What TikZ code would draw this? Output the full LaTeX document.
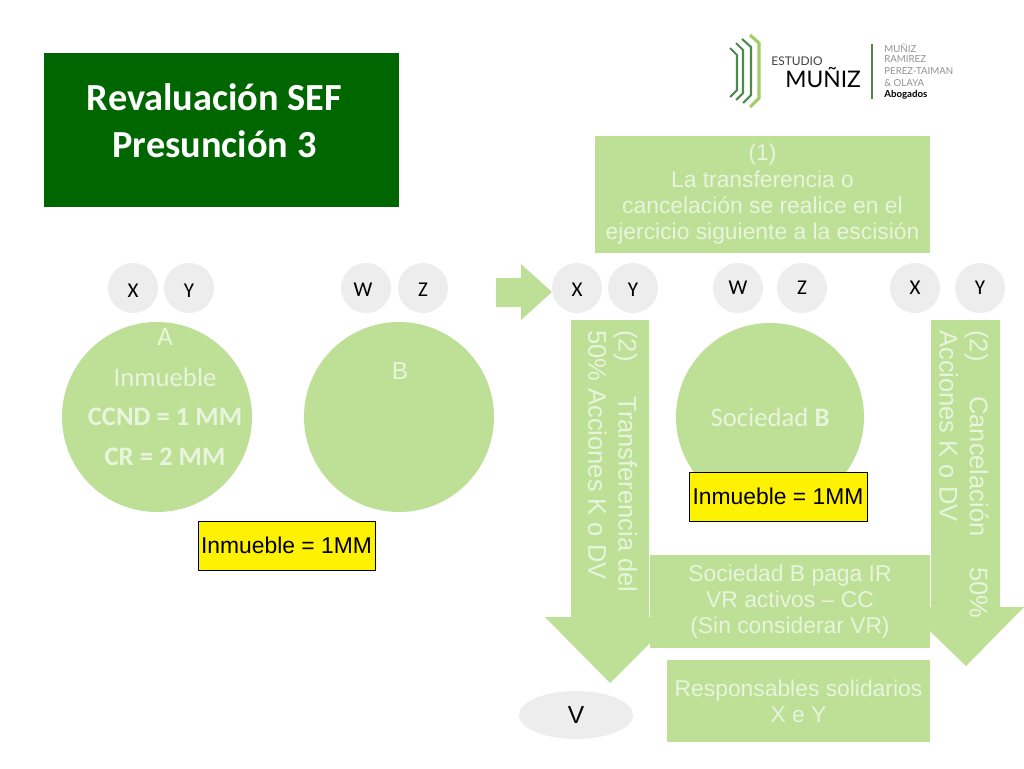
\documentclass[tikz,border=0pt]{standalone}
\usepackage{fontspec}
\setmainfont{Liberation Sans}
\newfontfamily\calibri{Carlito}
\newfontfamily\logofont{Lato}
\usetikzlibrary{calc,shapes.geometric}
\definecolor{leaf}{HTML}{BDE096}
\definecolor{forest}{HTML}{006600}
\definecolor{pale}{HTML}{EDEDED}
\definecolor{palefont}{HTML}{E8F4DC}
\definecolor{logogreen}{HTML}{4E8A4E}
\definecolor{logolime}{HTML}{A5CC6B}
\newcommand{\pxu}{*0.02cm}
\tikzset{
	smallcirc/.style={circle,fill=pale,minimum size=50\pxu,inner sep=0pt,font=\calibri\fontsize{12}{14}\selectfont},
	bigcirc/.style={circle,fill=leaf,minimum size=190\pxu,inner sep=0pt},
	greenbox/.style={fill=leaf,inner sep=0pt,text=palefont,align=center,font=\fontsize{13}{15}\selectfont},
	yellowbox/.style={draw=black,fill=yellow,line width=0.4pt,inner sep=0pt,font=\fontsize{13}{15}\selectfont},
	circtext/.style={text=palefont,font=\calibri\fontsize{15.2}{17}\selectfont},
	arrowtext/.style={rotate=-90,text=palefont,align=left,inner sep=0pt,font=\fontsize{14.5}{17.2}\selectfont},
	logotext/.style={anchor=west,inner sep=0pt,text=gray!85,font=\logofont\fontsize{5.5}{6}\selectfont}
}
\begin{document}
\begin{tikzpicture}[x=0.02cm,y=-0.02cm]
	\useasboundingbox (0,0) rectangle (1024,768);
	\fill[white] (0,0) rectangle (1024,768);

	%title
	\fill[forest] (44,53) rectangle (399,207);
	\node[text=white,align=center,font=\calibri\bfseries\fontsize{21.8}{26.6}\selectfont] (title) at (214.5,121) {Revaluación SEF\\Presunción 3};

	%logo
	\draw[logogreen,line width=1.2pt] (730,48) -- (737,55) -- (737,90) -- (730,97);
	\draw[logogreen,line width=1.2pt] (736,43) -- (743,50) -- (743,93) -- (736,100);
	\draw[logogreen,line width=1.2pt] (742,39) -- (751,47) -- (751,95) -- (743,103);
	\draw[logolime,line width=1.8pt] (750,35) -- (759,43) -- (759,98) -- (750,107);
	\node[anchor=west,inner sep=0pt,text=black!75,font=\logofont\fontsize{6.8}{8}\selectfont] (estudio) at (771,61) {ESTUDIO};
	\node[anchor=west,inner sep=0pt,font=\logofont\fontsize{13}{14}\selectfont] (muniz) at (785,78) {MUÑIZ};
	\draw[logogreen,line width=0.7pt] (872,44) -- (872,99);
	\node[logotext] (firm1) at (884,48) {MUÑIZ};
	\node[logotext] (firm2) at (884,59) {RAMIREZ};
	\node[logotext] (firm3) at (884,71) {PEREZ-TAIMAN};
	\node[logotext] (firm4) at (884,83) {\& OLAYA};
	\node[logotext,text=black,font=\logofont\bfseries\fontsize{5.5}{6}\selectfont] (firm5) at (884,95) {Abogados};

	%left side
	\node[smallcirc] (x1) at (133,288) {}; \node (x1t) at (133,291) {\calibri\fontsize{12}{14}\selectfont X};
	\node[smallcirc] (y1) at (189,288) {}; \node (y1t) at (189,291) {\calibri\fontsize{12}{14}\selectfont Y};
	\node[smallcirc] (w1) at (366,288) {}; \node (w1t) at (363,290) {\calibri\fontsize{12}{14}\selectfont W};
	\node[smallcirc] (z1) at (423,288) {}; \node (z1t) at (423,290) {\calibri\fontsize{12}{14}\selectfont Z};
	\node[bigcirc] (a) at (157,417) {};
	\node[bigcirc] (b) at (399,417) {};
	\node[circtext] (at) at (165,337) {A};
	\node[circtext] (inm) at (165,377) {Inmueble};
	\node[circtext,font=\calibri\bfseries\fontsize{15.2}{17}\selectfont] (ccnd) at (165,417) {CCND = 1 MM};
	\node[circtext,font=\calibri\bfseries\fontsize{15.2}{17}\selectfont] (cr) at (165,457) {CR = 2 MM};
	\node[circtext,font=\fontsize{14}{15}\selectfont] (bt) at (400,371) {B};
	\node[yellowbox,minimum width=177\pxu,minimum height=49\pxu] (inm1) at (286.5,545.5) {Inmueble = 1MM};

	%middle arrow
	\fill[leaf] (496,278) -- (521,278) -- (521,264) -- (552,292) -- (521,320) -- (521,307) -- (496,307) -- cycle;

	%right side
	\node[smallcirc] (x2) at (577,288) {}; \node (x2t) at (577,290) {\calibri\fontsize{12}{14}\selectfont X};
	\node[smallcirc] (y2) at (633,288) {}; \node (y2t) at (633,290) {\calibri\fontsize{12}{14}\selectfont Y};
	\node[smallcirc] (w2) at (738,288) {W};
	\node[smallcirc] (z2) at (802,288) {Z};
	\node[smallcirc] (x3) at (915,288) {X};
	\node[smallcirc] (y3) at (980,288) {Y};

	%arrows
	\fill[leaf] (571,320) -- (649,320) -- (649,617) -- (676,617) -- (610,683) -- (545,617) -- (571,617) -- cycle;
	\fill[leaf] (931,320) -- (1000,320) -- (1000,607) -- (1024,607) -- (966,666) -- (905,607) -- (931,607) -- cycle;
	\node[arrowtext,anchor=north west] (transf) at (637.5,330) {(2)\hspace{1.37em}Transferencia del\\50\% Acciones K o DV};
	\node[arrowtext,anchor=north west] (cancel) at (989,330) {(2)\hspace{1.37em}Cancelación\hspace{1.2em}50\%\\Acciones K o DV};

	%boxes
	\node[greenbox,minimum width=335\pxu,minimum height=117\pxu] (cond) at (762.5,194.5) {(1)\\La transferencia o\\cancelación se realice en el\\ejercicio siguiente a la escisión};
	\node[bigcirc,minimum size=188\pxu] (c) at (770,417) {};
	\node[circtext] (soc) at (770,417) {Sociedad \textbf{B}};
	\node[yellowbox,minimum width=178\pxu,minimum height=49\pxu] (inm2) at (778,496.5) {Inmueble = 1MM};
	\node[greenbox,minimum width=280\pxu,minimum height=93\pxu] (paga) at (790,601.5) {Sociedad B paga IR\\VR activos – CC\\(Sin considerar VR)};
	\node[greenbox,minimum width=263\pxu,minimum height=82\pxu] (resp) at (798.5,701) {Responsables solidarios\\X e Y};
	\node[ellipse,fill=pale,minimum width=114\pxu,minimum height=48\pxu,inner sep=0pt,font=\fontsize{14}{16}\selectfont] (v) at (576,715) {V};
\end{tikzpicture}
\end{document}
